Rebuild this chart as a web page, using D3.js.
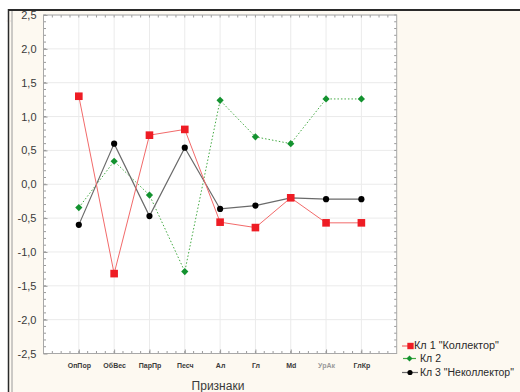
<!DOCTYPE html>
<html>
<head>
<meta charset="utf-8">
<script src="https://cdn.jsdelivr.net/npm/d3@7/dist/d3.min.js"></script>
<style>
  html, body { margin: 0; padding: 0; background: #fff; }
  svg { display: block; font-family: "Liberation Sans", Arial, sans-serif; }
</style>
</head>
<body>
<svg id="chart" width="520" height="392"></svg>
<script>
// Cluster profiles over the features
const categories = ["ОпПор", "ОбВес", "ПарПр", "Песч", "Ал", "Гл", "Md", "УрАк", "ГлКр"];
const cluster1 = [1.30, -1.32, 0.725, 0.81, -0.56, -0.64, -0.20, -0.57, -0.57];
const cluster2 = [-0.345, 0.34, -0.16, -1.29, 1.24, 0.70, 0.60, 1.26, 1.26];
const cluster3 = [-0.60, 0.60, -0.47, 0.54, -0.365, -0.315, -0.20, -0.22, -0.22];
const seriesNames = ['Кл 1 "Коллектор"', 'Кл 2', 'Кл 3 "Неколлектор"'];
const yTicks = [-2.5, -2.0, -1.5, -1.0, -0.5, 0.0, 0.5, 1.0, 1.5, 2.0, 2.5];
const xTitle = "Признаки";

const svg = d3.select("#chart");
const W = 520, H = 392;
const plot = { left: 43.5, right: 396.7, top: 15, bottom: 353.5 };

// window frame
svg.append("rect").attr("x", 8).attr("y", 9).attr("width", W - 8).attr("height", H - 9)
  .attr("fill", "#fdf9f1");
svg.append("line").attr("x1", 8).attr("x2", W).attr("y1", 10).attr("y2", 10)
  .attr("stroke", "#2a2a2a").attr("stroke-width", 2);
svg.append("line").attr("x1", 8.5).attr("x2", 8.5).attr("y1", 9).attr("y2", H)
  .attr("stroke", "#2a2a2a").attr("stroke-width", 1.5);
svg.append("line").attr("x1", 12).attr("x2", 12).attr("y1", 11).attr("y2", H)
  .attr("stroke", "#9a9a9a").attr("stroke-width", 1);
svg.append("text").attr("x", 11).attr("y", 22).attr("font-size", 7).attr("fill", "#999")
  .attr("transform", "rotate(-90 11 22)").text(":");

const x = d3.scalePoint().domain(categories).range([plot.left, plot.right]).padding(1);
const y = d3.scaleLinear().domain([-2.5, 2.5]).range([plot.bottom, plot.top]);

// plot area
svg.append("rect").attr("x", plot.left).attr("y", plot.top)
  .attr("width", plot.right - plot.left).attr("height", plot.bottom - plot.top)
  .attr("fill", "#fff");

// grid
svg.append("g").selectAll("line").data(yTicks).join("line")
  .attr("x1", plot.left).attr("x2", plot.right)
  .attr("y1", d => y(d)).attr("y2", d => y(d))
  .attr("stroke", "#ebebeb").attr("stroke-width", 1);
svg.append("g").selectAll("line").data(categories).join("line")
  .attr("x1", d => x(d)).attr("x2", d => x(d))
  .attr("y1", plot.top).attr("y2", plot.bottom)
  .attr("stroke", "#ebebeb").attr("stroke-width", 1);

// minor ticks (inward) on all four sides
const step = x.step();
const xMinor = d3.range(0, categories.length + 1).flatMap(i =>
  [0, 0.25, 0.5, 0.75].map(f => plot.left + (i + f) * step)).filter(v => v < plot.right);
const yMinor = d3.range(-2.5, 2.5001, 0.1);
const tickG = svg.append("g").attr("stroke", "#9a9a9a").attr("stroke-width", 1);
xMinor.forEach(v => {
  tickG.append("line").attr("x1", v).attr("x2", v).attr("y1", plot.bottom).attr("y2", plot.bottom - 2.5);
  tickG.append("line").attr("x1", v).attr("x2", v).attr("y1", plot.top).attr("y2", plot.top + 2.5);
});
yMinor.forEach(v => {
  tickG.append("line").attr("x1", plot.left).attr("x2", plot.left + 2.5).attr("y1", y(v)).attr("y2", y(v));
  tickG.append("line").attr("x1", plot.right).attr("x2", plot.right - 2.5).attr("y1", y(v)).attr("y2", y(v));
});

// plot border
svg.append("rect").attr("x", plot.left).attr("y", plot.top)
  .attr("width", plot.right - plot.left).attr("height", plot.bottom - plot.top)
  .attr("fill", "none").attr("stroke", "#a8a8a8").attr("stroke-width", 1);

// y axis
const yAxis = svg.append("g").attr("transform", `translate(${plot.left},0)`)
  .call(d3.axisLeft(y).tickValues(yTicks).tickSize(4).tickPadding(3)
    .tickFormat(d => d3.format(".1f")(d).replace(".", ",").replace("−", "-")));
yAxis.select(".domain").remove();
yAxis.selectAll(".tick line").attr("stroke", "#9a9a9a").attr("x2", 4);
yAxis.selectAll(".tick text").attr("font-size", 11).attr("fill", "#3a3a3a")
  .attr("font-family", "'Liberation Sans', Arial, sans-serif");

// x axis
const xAxis = svg.append("g").attr("transform", `translate(0,${plot.bottom})`)
  .call(d3.axisBottom(x).tickSize(4).tickPadding(6));
xAxis.select(".domain").remove();
xAxis.selectAll(".tick line").attr("stroke", "#9a9a9a").attr("y2", -4);
xAxis.selectAll(".tick text").attr("font-size", 7).attr("font-weight", "bold")
  .attr("fill", d => d === "УрАк" ? "#9a9a9a" : "#3a3a3a")
  .attr("font-family", "'Liberation Sans', Arial, sans-serif");

svg.append("text").attr("x", 218).attr("y", 390).attr("text-anchor", "middle")
  .attr("font-size", 12).attr("fill", "#3a3a3a").text(xTitle);

// series
const line = d3.line().x((d, i) => x(categories[i])).y(d => y(d));
const series = [
  { name: seriesNames[0], values: cluster1, color: "#f26a6a", dash: null, width: 1, marker: "square", fill: "#ee1c24" },
  { name: seriesNames[1], values: cluster2, color: "#44aa44", dash: "1.5,2", width: 1, marker: "diamond", fill: "#13922f" },
  { name: seriesNames[2], values: cluster3, color: "#6a6a6a", dash: null, width: 1.2, marker: "circle", fill: "#000" }
];
// marker shapes; the diamond is a square turned by 45 degrees
function marker(sel, kind, scale) {
  if (kind === "square") {
    sel.append("path").attr("d", d3.symbol(d3.symbolSquare, 58 * scale)());
  } else if (kind === "diamond") {
    sel.append("path").attr("transform", "rotate(45)").attr("d", d3.symbol(d3.symbolSquare, 26 * scale)());
  } else {
    sel.append("path").attr("d", d3.symbol(d3.symbolCircle, 30 * scale)());
  }
}

// draw order: green, black, red on top
[series[1], series[2], series[0]].forEach(s => {
  svg.append("path").datum(s.values).attr("d", line)
    .attr("fill", "none").attr("stroke", s.color).attr("stroke-width", s.width)
    .attr("stroke-dasharray", s.dash);
  svg.append("g").attr("fill", s.fill).selectAll("g").data(s.values).join("g")
    .attr("transform", (d, i) => `translate(${x(categories[i])},${y(d)})`)
    .each(function () { marker(d3.select(this), s.marker, 1); });
});

// legend; labels are squeezed horizontally to a fixed width
const legendRows = [
  { s: series[0], y: 346, x1: 402, x2: 413, mx: 410.5, tx: 414, w: 85 },
  { s: series[1], y: 358.5, x1: 403, x2: 416, mx: 409.5, tx: 420, w: 21 },
  { s: series[2], y: 372.5, x1: 402, x2: 418, mx: 410, tx: 420, w: 94 }
];
const lg = svg.append("g");
legendRows.forEach(r => {
  lg.append("line").attr("x1", r.x1).attr("x2", r.x2).attr("y1", r.y).attr("y2", r.y)
    .attr("stroke", r.s.color).attr("stroke-width", 1.2);
  const m = lg.append("g").attr("transform", `translate(${r.mx},${r.y})`).attr("fill", r.s.fill);
  marker(m, r.s.marker, 0.7);
  const t = lg.append("text").attr("x", 0).attr("y", 0).attr("dy", "0.35em")
    .attr("font-size", 11.5).attr("fill", "#2a2a2a")
    .text(r.s.name);
  const natural = t.node().getComputedTextLength();
  const k = Math.min(1, r.w / natural);
  t.attr("transform", `translate(${r.tx},${r.y - 1}) scale(${k},1)`);
});
</script>
</body>
</html>
